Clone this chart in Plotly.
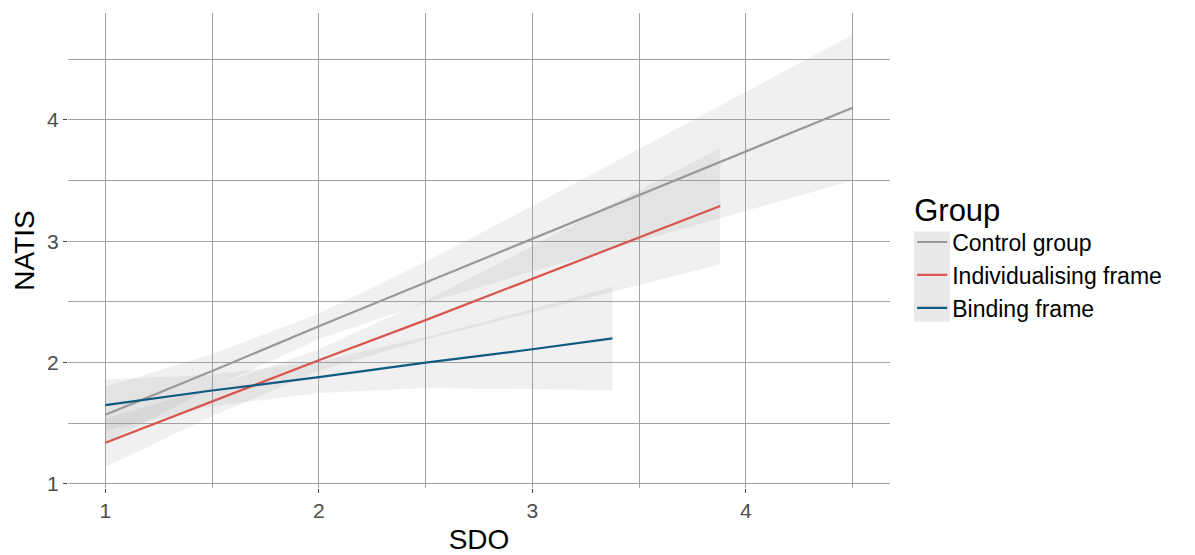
import plotly.graph_objects as go

# ---- data ----
groups = ["Control group", "Individualising frame", "Binding frame"]
colors = ["#999999", "#D9544D", "#0F5A80"]

x_control = [1.0, 1.5, 2.0, 2.5, 3.0, 3.5, 4.0, 4.5]
fit_control = [1.57, 1.93, 2.30, 2.66, 3.02, 3.38, 3.74, 4.10]
lo_control = [1.34, 1.79, 2.195, 2.49, 2.75, 3.00, 3.25, 3.50]
hi_control = [1.80, 2.07, 2.405, 2.83, 3.29, 3.76, 4.23, 4.70]

x_indiv = [1.0, 1.5, 2.0, 2.5, 3.0, 3.5, 3.88]
fit_indiv = [1.34, 1.68, 2.02, 2.35, 2.69, 3.03, 3.29]
lo_indiv = [1.14, 1.56, 1.93, 2.19, 2.42, 2.64, 2.81]
hi_indiv = [1.54, 1.80, 2.11, 2.51, 2.96, 3.42, 3.77]

x_bind = [1.0, 1.5, 2.0, 2.5, 3.0, 3.375]
fit_bind = [1.65, 1.77, 1.88, 2.00, 2.11, 2.20]
lo_bind = [1.44, 1.64, 1.75, 1.79, 1.78, 1.775]
hi_bind = [1.86, 1.90, 2.01, 2.21, 2.44, 2.625]

x_ticks = [1, 2, 3, 4]
y_ticks = [1, 2, 3, 4]

series = [
    (x_control, fit_control, lo_control, hi_control),
    (x_indiv, fit_indiv, lo_indiv, hi_indiv),
    (x_bind, fit_bind, lo_bind, hi_bind),
]

fig = go.Figure()

# ribbons
for name, (xs, fit, lo, hi) in zip(groups, series):
    fig.add_trace(go.Scatter(
        x=list(xs) + list(xs[::-1]),
        y=list(hi) + list(lo[::-1]),
        fill="toself", mode="lines", line=dict(width=0),
        fillcolor="rgba(153,153,153,0.15)", hoverinfo="skip",
        showlegend=False))

# fitted lines
for name, col, (xs, fit, lo, hi) in zip(groups, colors, series):
    fig.add_trace(go.Scatter(x=xs, y=fit, mode="lines", name=name,
                             line=dict(color=col, width=2.2)))

grid = "#A3A3A3"
axis_common = dict(
    showgrid=True, gridcolor=grid, gridwidth=1.1,
    ticks="outside", ticklen=4, tickcolor="#444444", tickwidth=1,
    zeroline=False, showline=False, automargin=False,
    tickfont=dict(size=21, color="#4D4D4D"),
)
fig.update_layout(
    width=1195, height=555,
    margin=dict(l=68, r=305, t=13, b=67),
    paper_bgcolor="white", plot_bgcolor="white",
    font=dict(family="Liberation Sans, Arial, sans-serif", color="#000000"),
    xaxis=dict(range=[0.825, 4.675], tickvals=x_ticks, ticktext=[str(v) for v in x_ticks],
               minor=dict(dtick=0.5, showgrid=True, gridcolor=grid, gridwidth=1.1),
               title=dict(text="SDO", font=dict(size=28), standoff=10),
               **axis_common),
    yaxis=dict(range=[0.967, 4.88], tickvals=y_ticks, ticktext=[str(v) for v in y_ticks],
               minor=dict(dtick=0.5, showgrid=True, gridcolor=grid, gridwidth=1.1),
               title=dict(text="NATIS", font=dict(size=28), standoff=4),
               **axis_common),
    legend=dict(x=1.027, xanchor="left", y=0.49, yanchor="middle",
                title=dict(text="Group", font=dict(size=31)),
                font=dict(size=23), itemwidth=30, tracegroupgap=0,
                bgcolor="rgba(0,0,0,0)"),
    shapes=[dict(type="rect", xref="paper", yref="paper",
                 x0=1.0292, x1=1.0730, y0=0.35, y1=0.54,
                 fillcolor="#E8E8E8", line=dict(width=0), layer="below")],
)

fig.write_html("out.html")
